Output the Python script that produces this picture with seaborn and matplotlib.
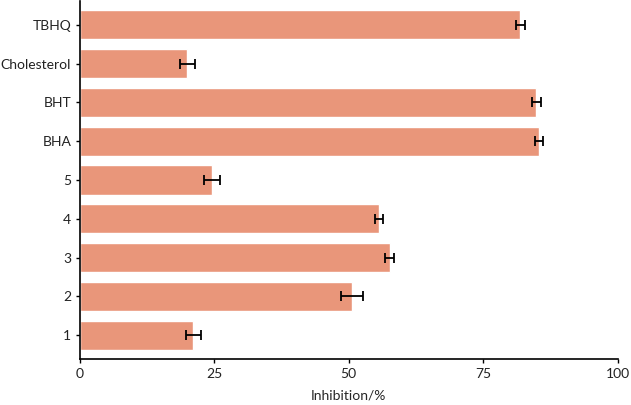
import pandas as pd
import matplotlib
matplotlib.use("Agg")
import matplotlib.pyplot as plt
import seaborn as sns

# values
compounds = ["TBHQ", "Cholesterol", "BHT", "BHA", "5", "4", "3", "2", "1"]
inhibition = [81.9, 20.0, 84.9, 85.4, 24.6, 55.6, 57.6, 50.6, 21.1]
err = [0.78, 1.4, 0.8, 0.8, 1.5, 0.75, 0.8, 2.1, 1.4]

df = pd.DataFrame({"compound": compounds, "inhibition": inhibition, "err": err})

sns.set_style("ticks")
plt.rcParams["font.family"] = ["Lato", "DejaVu Sans"]

fig = plt.figure(figsize=(6.31, 4.05), dpi=100)
ax = fig.add_axes([0.126, 0.113, 0.853, 0.885])

sns.barplot(data=df, x="inhibition", y="compound", orient="h",
            color="#E9967A", saturation=1, width=0.75, ax=ax)
ax.errorbar(df["inhibition"], range(len(df)), xerr=df["err"], fmt="none",
            ecolor="black", elinewidth=1.3, capsize=3.5, capthick=1.3)

ax.set_xlim(0, 100)
ax.set_ylim(len(df) - 0.38, -0.62)
ax.set_xticks([0, 25, 50, 75, 100])
ax.set_xlabel("Inhibition/%", fontsize=10, labelpad=7)
ax.set_ylabel("")
ax.tick_params(axis="both", labelsize=10, length=3, width=1, pad=3,
               color="black", labelcolor="#222222")
sns.despine(ax=ax)
for s in ["left", "bottom"]:
    ax.spines[s].set_linewidth(1.2)
    ax.spines[s].set_color("black")

fig.savefig("out.png", dpi=100)
